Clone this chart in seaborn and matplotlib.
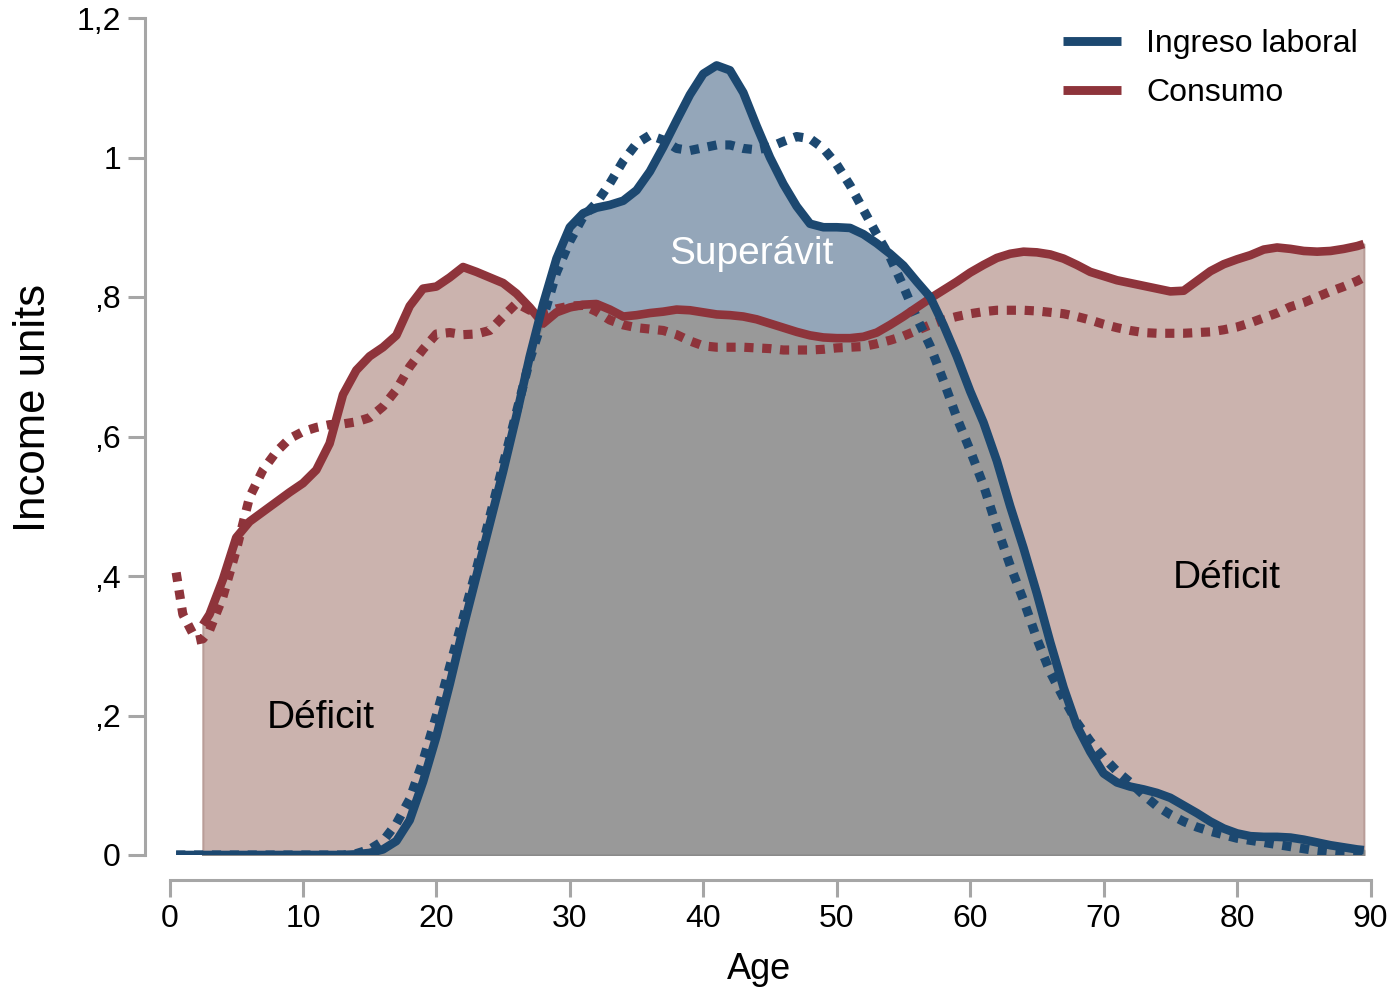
import numpy as np
import pandas as pd
import matplotlib
matplotlib.use("Agg")
import matplotlib.pyplot as plt
from matplotlib.lines import Line2D
import seaborn as sns

# Age grid (years)
AGE = [0.5, 1, 2, 2.5] + list(range(3, 90)) + [89.5]

# Per-capita labour income, current profile (solid) and reference profile (dotted)
INGRESO = [0.0, 0.0, 0.0, 0.0,
           0.0, 0.0, 0.0, 0.0, 0.0, 0.0, 0.0, 0.0, 0.0, 0.0, 0.0,          # 3-13
           0.001, 0.003, 0.008, 0.02, 0.05, 0.105, 0.17,                  # 14-20
           0.245, 0.325, 0.40, 0.475, 0.55, 0.63, 0.715, 0.79, 0.855, 0.90,  # 21-30
           0.92, 0.928, 0.932, 0.938, 0.953, 0.98, 1.015, 1.053, 1.09, 1.12,  # 31-40
           1.132, 1.125, 1.093, 1.045, 1.0, 0.962, 0.93, 0.905, 0.90, 0.90,   # 41-50
           0.899, 0.89, 0.877, 0.862, 0.845, 0.822, 0.80, 0.76, 0.715, 0.665,  # 51-60
           0.62, 0.565, 0.50, 0.44, 0.375, 0.305, 0.24, 0.185, 0.148, 0.117,  # 61-70
           0.104, 0.098, 0.094, 0.089, 0.082, 0.071, 0.06, 0.048, 0.038, 0.031,  # 71-80
           0.027, 0.026, 0.026, 0.025, 0.022, 0.018, 0.014, 0.011, 0.008,     # 81-89
           0.007]

INGRESO_REF = [0.0, 0.0, 0.0, 0.0,
               0.0, 0.0, 0.0, 0.0, 0.0, 0.0, 0.0, 0.0, 0.0, 0.0, 0.0,
               0.002, 0.008, 0.02, 0.045, 0.08, 0.135, 0.20,
               0.27, 0.34, 0.41, 0.485, 0.56, 0.635, 0.71, 0.77, 0.835, 0.88,
               0.915, 0.935, 0.963, 0.995, 1.02, 1.032, 1.025, 1.013, 1.01, 1.014,
               1.018, 1.018, 1.013, 1.011, 1.015, 1.023, 1.03, 1.027, 1.013, 0.99,
               0.96, 0.925, 0.89, 0.857, 0.815, 0.77, 0.73, 0.68, 0.627, 0.58,
               0.53, 0.47, 0.415, 0.365, 0.31, 0.262, 0.225, 0.19, 0.163, 0.14,
               0.12, 0.104, 0.086, 0.07, 0.058, 0.048, 0.04, 0.034, 0.029, 0.024,
               0.021, 0.018, 0.015, 0.012, 0.009, 0.006, 0.004, 0.002, 0.001,
               0.0]

# Per-capita consumption, current profile (solid) and reference profile (dotted)
CONSUMO = [np.nan, np.nan, np.nan, 0.33,
           0.345, 0.395, 0.455, 0.478, 0.492, 0.506, 0.52, 0.533, 0.552, 0.59, 0.66,  # 3-13
           0.695, 0.715, 0.728, 0.745, 0.787, 0.812, 0.815,
           0.828, 0.843, 0.836, 0.828, 0.82, 0.805, 0.785, 0.762, 0.778, 0.785,
           0.789, 0.79, 0.782, 0.772, 0.774, 0.777, 0.779, 0.782, 0.781, 0.778,
           0.775, 0.774, 0.772, 0.768, 0.762, 0.756, 0.75, 0.745, 0.742, 0.741,
           0.741, 0.743, 0.749, 0.76, 0.772, 0.785, 0.798, 0.81, 0.822, 0.835,
           0.846, 0.856, 0.862, 0.865, 0.864, 0.861, 0.855, 0.846, 0.836, 0.83,
           0.824, 0.82, 0.816, 0.812, 0.808, 0.809, 0.823, 0.837, 0.847, 0.854,
           0.86, 0.868, 0.871, 0.869, 0.866, 0.865, 0.866, 0.869, 0.873,
           0.876]

CONSUMO_REF = [0.405, 0.345, 0.308, 0.31,
               0.322, 0.37, 0.437, 0.513, 0.552, 0.578, 0.597, 0.607, 0.613, 0.617, 0.618,
               0.621, 0.627, 0.643, 0.667, 0.70, 0.725, 0.747,
               0.749, 0.746, 0.747, 0.752, 0.772, 0.791, 0.781, 0.777, 0.783, 0.787,
               0.788, 0.779, 0.767, 0.76, 0.756, 0.754, 0.752, 0.746, 0.737, 0.73,
               0.728, 0.728, 0.728, 0.727, 0.726, 0.724, 0.724, 0.724, 0.725, 0.727,
               0.728, 0.729, 0.733, 0.738, 0.744, 0.752, 0.76, 0.767, 0.772, 0.776,
               0.779, 0.781, 0.781, 0.781, 0.78, 0.778, 0.776, 0.772, 0.767, 0.761,
               0.756, 0.752, 0.749, 0.748, 0.748, 0.748, 0.749, 0.75, 0.753, 0.757,
               0.763, 0.77, 0.777, 0.786, 0.792, 0.80, 0.808, 0.815, 0.823,
               0.828]

SERIES_LABELS = ["Ingreso laboral", "Consumo"]
X_TICKS = [0, 10, 20, 30, 40, 50, 60, 70, 80, 90]
Y_TICKS = [0, 0.2, 0.4, 0.6, 0.8, 1.0, 1.2]
Y_TICK_LABELS = ["0", ",2", ",4", ",6", ",8", "1", "1,2"]

BLUE = "#1C4870"
RED = "#8E343B"
PINK_FILL = "#CBB3AE"
BLUE_FILL = "#94A6B9"
GREY_FILL = "#999999"
AXIS_GREY = "#A6A6A6"

df = pd.DataFrame({
    "age": AGE,
    "ingreso": INGRESO,
    "ingreso_ref": INGRESO_REF,
    "consumo": CONSUMO,
    "consumo_ref": CONSUMO_REF,
})

sns.set_theme(style="white")
plt.rcParams["font.family"] = ["Liberation Sans", "DejaVu Sans"]
plt.rcParams["text.color"] = "black"
plt.rcParams["axes.labelcolor"] = "black"

W, H = 1398, 991
fig = plt.figure(figsize=(W / 100, H / 100), dpi=100)
ax = fig.add_axes([169.5 / W, 1 - 855 / H, (1370.5 - 169.5) / W, (855 - 18) / H])

age = df["age"].to_numpy(float)
inc = df["ingreso"].to_numpy(float)
con = df["consumo"].to_numpy(float)
valid = ~np.isnan(con)
con_f = np.where(valid, con, 0.0)

# Areas: consumption deficit, covered consumption, surplus of income
ax.fill_between(age, 0, con_f, where=valid, color=PINK_FILL,
                edgecolor="#B99D98", linewidth=1.5, zorder=1)
ax.fill_between(age, 0, np.minimum(inc, con_f), where=valid, color=GREY_FILL,
                edgecolor="#8A8A8A", linewidth=1.5, zorder=1.5)
ax.fill_between(age, con_f, inc, where=valid & (inc > con_f), interpolate=True,
                color=BLUE_FILL, linewidth=0, zorder=1.6)

LW = 6.2
dots = (0, (1, 0.95))
sns.lineplot(data=df, x="age", y="consumo_ref", ax=ax, color=RED, linewidth=6.6,
             linestyle=dots, dash_capstyle="butt", sort=False, estimator=None, zorder=3)
sns.lineplot(data=df, x="age", y="ingreso_ref", ax=ax, color=BLUE, linewidth=6.6,
             linestyle=dots, dash_capstyle="butt", sort=False, estimator=None, zorder=3)
sns.lineplot(data=df, x="age", y="consumo", ax=ax, color=RED, linewidth=LW,
             solid_capstyle="butt", solid_joinstyle="round",
             sort=False, estimator=None, zorder=4)
sns.lineplot(data=df, x="age", y="ingreso", ax=ax, color=BLUE, linewidth=LW,
             solid_capstyle="butt", solid_joinstyle="round",
             sort=False, estimator=None, zorder=4)

ax.text(43.6, 0.862, "Superávit", color="white", fontsize=28, ha="center", va="center", zorder=5)
ax.text(11.3, 0.196, "Déficit", color="black", fontsize=28, ha="center", va="center", zorder=5)
ax.text(79.2, 0.397, "Déficit", color="black", fontsize=28, ha="center", va="center", zorder=5)

ax.set_xlim(0, 90)
ax.set_ylim(0, 1.2)
ax.set_xticks(X_TICKS)
ax.set_xticklabels([str(t) for t in X_TICKS])
ax.set_yticks(Y_TICKS)
ax.set_yticklabels(Y_TICK_LABELS)

sns.despine(ax=ax, offset=18)
for side in ("left", "bottom"):
    ax.spines[side].set_color(AXIS_GREY)
    ax.spines[side].set_linewidth(2.2)
ax.tick_params(axis="both", which="major", bottom=True, left=True, length=12, width=2.2,
               color=AXIS_GREY, labelsize=23, labelcolor="black", pad=5)

ax.set_xlabel("Age", fontsize=26)
ax.set_ylabel("Income units", fontsize=31.5)
ax.xaxis.set_label_coords((759 - 169.5) / 1201, -(952 - 855) / 837)
ax.yaxis.set_label_coords((54 - 169.5) / 1201, (855 - 408) / 837)

handles = [Line2D([], [], color=BLUE, linewidth=6.4, solid_capstyle="butt"),
           Line2D([], [], color=RED, linewidth=6.4, solid_capstyle="butt")]
leg = ax.legend(handles, SERIES_LABELS, loc="upper left", bbox_to_anchor=(1063 / W, 1 - 29 / H),
                bbox_transform=fig.transFigure, frameon=False, fontsize=23, handlelength=1.8,
                handletextpad=0.8, labelspacing=0.6, borderpad=0, borderaxespad=0)
for t in leg.get_texts():
    t.set_color("black")

fig.savefig("out.png", dpi=100)
